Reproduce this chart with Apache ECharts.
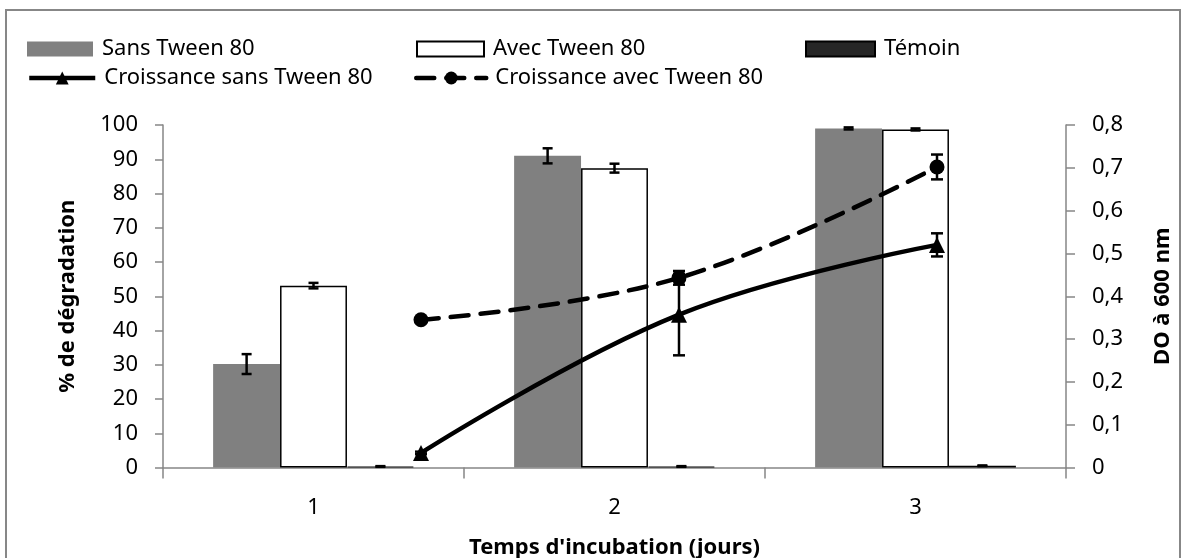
<!DOCTYPE html>
<html>
<head>
<meta charset="utf-8">
<script src="https://cdn.jsdelivr.net/npm/echarts@6/dist/echarts.min.js"></script>
<style>
html,body{margin:0;padding:0;background:#fff;}
#chart{width:1187px;height:558px;}
</style>
</head>
<body>
<div id="chart"></div>
<script>
// ---- data ----
const days = ['1', '2', '3'];
const dayNums = [1, 2, 3];
const sansTween = [30.2, 91.0, 99.0];
const sansTweenErr = [2.9, 2.2, 0.3];
const avecTween = [53.1, 87.4, 98.7];
const avecTweenErr = [0.8, 1.3, 0.3];
const temoin = [0.3, 0.3, 0.5];
const temoinErr = [0.1, 0.1, 0.1];
const croissSans = [0.034, 0.357, 0.52];
const croissSansErr = [0.003, 0.095, 0.027];
const croissAvec = [0.345, 0.443, 0.702];
const croissAvecErr = [0.004, 0.016, 0.029];
const leftTicks = { min: 0, max: 100, interval: 10 };
const rightTicks = { min: 0, max: 0.8, interval: 0.1 };

const FONT = 'Noto Sans';
const AXIS_GREY = '#868686';

function barErr(values, errs, k) {
  return {
    type: 'custom', xAxisIndex: 0, yAxisIndex: 0, z: 5, silent: true,
    data: values.map((v, i) => [i, v, errs[i]]),
    renderItem: function (params, api) {
      const i = api.value(0), v = api.value(1), e = api.value(2);
      const band = api.size([1, 0])[0];
      const off = (k - 1) * band * 2 / 9;
      const top = api.coord([i, v + e]);
      const bot = api.coord([i, v - e]);
      const x = top[0] + off;
      const cw = 5;
      const st = { stroke: '#000', lineWidth: 2.5 };
      return { type: 'group', children: [
        { type: 'line', shape: { x1: x, y1: top[1], x2: x, y2: bot[1] }, style: st },
        { type: 'line', shape: { x1: x - cw, y1: top[1], x2: x + cw, y2: top[1] }, style: st },
        { type: 'line', shape: { x1: x - cw, y1: bot[1], x2: x + cw, y2: bot[1] }, style: st }
      ]};
    }
  };
}
function lineErr(values, errs) {
  return {
    type: 'custom', xAxisIndex: 1, yAxisIndex: 1, z: 12, silent: true,
    data: values.map((v, i) => [dayNums[i], v, errs[i]]),
    renderItem: function (params, api) {
      const d = api.value(0), v = api.value(1), e = api.value(2);
      const top = api.coord([d, v + e]);
      const bot = api.coord([d, v - e]);
      const x = top[0];
      const cw = 6;
      const st = { stroke: '#000', lineWidth: 2.5 };
      return { type: 'group', children: [
        { type: 'line', shape: { x1: x, y1: top[1], x2: x, y2: bot[1] }, style: st },
        { type: 'line', shape: { x1: x - cw, y1: top[1], x2: x + cw, y2: top[1] }, style: st },
        { type: 'line', shape: { x1: x - cw, y1: bot[1], x2: x + cw, y2: bot[1] }, style: st }
      ]};
    }
  };
}
function legendAt(name, left, top, w, h, isBar) {
  const l = {
    data: [isBar ? { name: name, icon: 'rect' } : name], left: left, top: top, padding: 0,
    itemWidth: w, itemHeight: h, selectedMode: false,
    textStyle: { fontFamily: FONT, fontSize: 22, color: '#000', padding: [0, 0, 0, 4] }
  };
  if (!isBar) l.lineStyle = { width: 4.5 };
  return l;
}

const chart = echarts.init(document.getElementById('chart'));
chart.setOption({
  animation: false,
  backgroundColor: '#fff',
  graphic: [{
    type: 'rect', shape: { x: 6, y: 10, width: 1174, height: 570 },
    style: { fill: 'none', stroke: '#878787', lineWidth: 2 }, silent: true, z: -10
  }],
  legend: [
    legendAt('Sans Tween 80', 27, 38, 66, 15, true),
    legendAt('Avec Tween 80', 416, 38, 67, 15, true),
    legendAt('Témoin', 805, 38, 69, 15, true),
    legendAt('Croissance sans Tween 80', 27, 67, 66, 16, false),
    legendAt('Croissance avec Tween 80', 414, 67, 70, 16, false)
  ],
  grid: { left: 163, right: 121, top: 125, bottom: 90.5, containLabel: false, outerBoundsMode: 'none' },
  xAxis: [{
    type: 'category', data: days, boundaryGap: true,
    name: "Temps d'incubation (jours)", nameLocation: 'middle', nameGap: 69,
    nameTextStyle: { fontFamily: FONT, fontSize: 22, fontWeight: 'bold', color: '#000' },
    axisLine: { lineStyle: { color: AXIS_GREY, width: 1.5 } },
    axisTick: { show: true, length: 11, lineStyle: { color: AXIS_GREY, width: 1.5 } },
    axisLabel: { margin: 29, fontFamily: FONT, fontSize: 22, color: '#000' },
    splitLine: { show: false }
  }, {
    type: 'value', min: 0, max: 3.5, show: false
  }],
  yAxis: [{
    type: 'value', min: leftTicks.min, max: leftTicks.max, interval: leftTicks.interval,
    name: '% de dégradation', nameLocation: 'middle', nameGap: 84, nameRotate: 90,
    nameTextStyle: { fontFamily: FONT, fontSize: 22, fontWeight: 'bold', color: '#000' },
    axisLine: { show: true, lineStyle: { color: AXIS_GREY, width: 1.5 } },
    axisTick: { show: true, length: 8, lineStyle: { color: AXIS_GREY, width: 1.5 } },
    axisLabel: { margin: 25, fontFamily: FONT, fontSize: 22, color: '#000' },
    splitLine: { show: false }
  }, {
    type: 'value', min: rightTicks.min, max: rightTicks.max, interval: rightTicks.interval,
    position: 'right',
    name: 'DO à 600 nm', nameLocation: 'middle', nameGap: 86, nameRotate: 90,
    nameTextStyle: { fontFamily: FONT, fontSize: 22, fontWeight: 'bold', color: '#000' },
    axisLine: { show: true, lineStyle: { color: AXIS_GREY, width: 1.5 } },
    axisTick: { show: true, length: 9, lineStyle: { color: AXIS_GREY, width: 1.5 } },
    axisLabel: { margin: 26, fontFamily: FONT, fontSize: 22, color: '#000',
      formatter: v => (Math.round(v * 10) / 10).toString().replace('.', ',') },
    splitLine: { show: false }
  }],
  series: [
    { name: 'Sans Tween 80', type: 'bar', data: sansTween, barGap: '0%', barCategoryGap: '33.3%',
      itemStyle: { color: '#808080' } },
    { name: 'Avec Tween 80', type: 'bar', data: avecTween,
      itemStyle: { color: '#ffffff', borderColor: '#000', borderWidth: 1.5 } },
    { name: 'Témoin', type: 'bar', data: temoin,
      itemStyle: { color: '#262626', borderColor: '#000', borderWidth: 1.2 } },
    barErr(sansTween, sansTweenErr, 0),
    barErr(avecTween, avecTweenErr, 1),
    barErr(temoin, temoinErr, 2),
    { name: 'Croissance sans Tween 80', type: 'line', xAxisIndex: 1, yAxisIndex: 1, z: 10,
      data: croissSans.map((v, i) => [dayNums[i], v]), smooth: 0.4,
      symbol: 'triangle', symbolSize: 16,
      lineStyle: { color: '#000', width: 4.5 }, itemStyle: { color: '#000' } },
    { name: 'Croissance avec Tween 80', type: 'line', xAxisIndex: 1, yAxisIndex: 1, z: 10,
      data: croissAvec.map((v, i) => [dayNums[i], v]), smooth: 0.4,
      symbol: 'circle', symbolSize: 15,
      lineStyle: { color: '#000', width: 4.5, type: [18, 12], cap: 'round' }, itemStyle: { color: '#000' } },
    lineErr(croissSans, croissSansErr),
    lineErr(croissAvec, croissAvecErr)
  ]
});
</script>
</body>
</html>
